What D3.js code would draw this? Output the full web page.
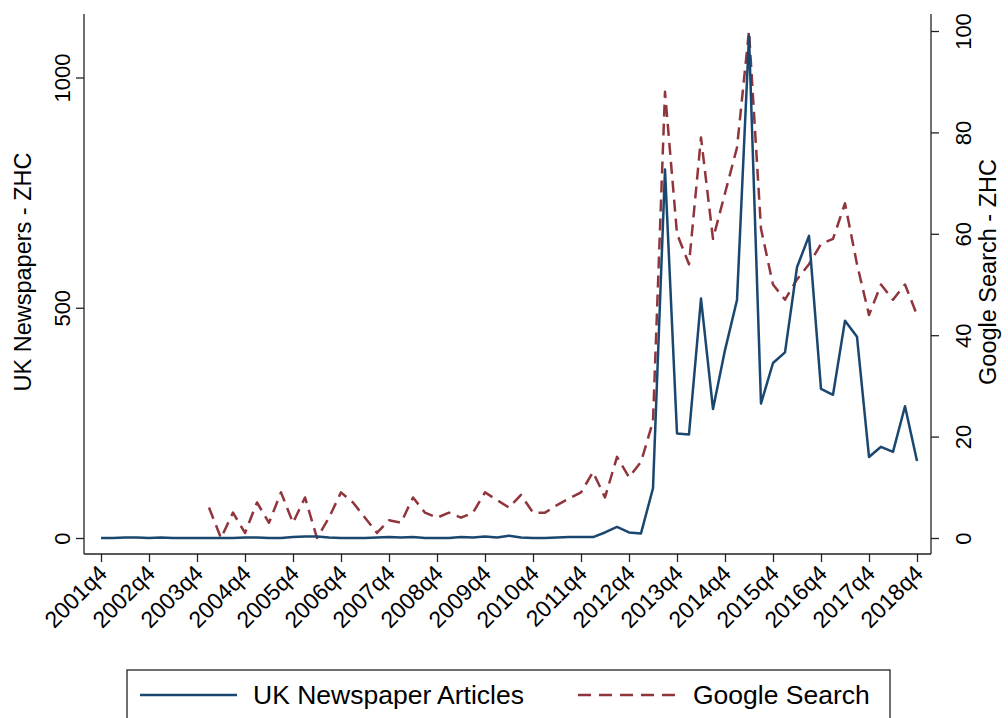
<!DOCTYPE html>
<html>
<head>
<meta charset="utf-8">
<script src="https://cdn.jsdelivr.net/npm/d3@7"></script>
<style>
  body { margin: 0; background: #fff; }
  svg { display: block; font-family: "Liberation Sans", Arial, Helvetica, sans-serif; }
</style>
</head>
<body>
<div id="grafica"></div>
<script>
// quarters 2001q4 .. 2018q4
var quarters = [];
for (var y = 2001; y <= 2018; y++) {
  for (var q = 1; q <= 4; q++) {
    if ((y === 2001 && q < 4) || (y === 2018 && q > 4)) continue;
    quarters.push(y + "q" + q);
  }
}
var tickLabels = ["2001q4","2002q4","2003q4","2004q4","2005q4","2006q4","2007q4","2008q4","2009q4",
  "2010q4","2011q4","2012q4","2013q4","2014q4","2015q4","2016q4","2017q4","2018q4"];

// UK newspaper articles (left axis)
var newspapers = [0,0,1,1,0,1,0,0,0,0,0,0,1,1,0,0,2,3,3,1,0,0,0,1,2,1,2,0,0,0,
  2,1,3,1,5,1,0,0,1,2,2,2,12,24,12,10,108,800,227,225,520,280,408,517,1090,
  292,380,403,588,656,324,311,472,437,176,198,187,286,167];

// Google search index (right axis), starts 2004q1
var google = [null,null,null,null,null,null,null,null,null,
  6,0,5,1,7,3,9,3,8,0,4,9,7,4,1,3.5,3,8,5,4,5,4,5,9,7.5,6,8.5,5,5,6.5,7.8,9,
  13,8,16,12,15,23,88,60,54,79,59,68,77,100,61,50,47,51,54,58,59,66,54,44,50,47,50,44];

var leftTicks = [0, 500, 1000];
var rightTicks = [0, 20, 40, 60, 80, 100];

var W = 1008, H = 718;
var frame = {left: 84, right: 931, top: 14, bottom: 554};

var svg = d3.select("#grafica").append("svg").attr("width", W).attr("height", H);

var x = d3.scalePoint().domain(quarters).range([101, 917]);
var yL = d3.scaleLinear().domain([0, 1000]).range([538, 77.5]);
var yR = d3.scaleLinear().domain([0, 100]).range([538, 31]);

var navy = "#1a476f", maroon = "#90353b";

// axes
var axL = svg.append("g").attr("transform", "translate(" + frame.left + ",0)")
  .call(d3.axisLeft(yL).tickValues(leftTicks).tickSize(8).tickFormat(d3.format("d")));
var axR = svg.append("g").attr("transform", "translate(" + frame.right + ",0)")
  .call(d3.axisRight(yR).tickValues(rightTicks).tickSize(8).tickFormat(d3.format("d")));
var axB = svg.append("g").attr("transform", "translate(0," + frame.bottom + ")")
  .call(d3.axisBottom(x).tickValues(tickLabels).tickSize(8));

[axL, axR, axB].forEach(function(g) {
  g.select(".domain").remove();
  g.selectAll(".tick line").attr("stroke", "#222").attr("stroke-width", 1.3);
  g.selectAll("text").attr("fill", "#000").style("font-size", "22px")
    .style("font-family", "'Liberation Sans', Arial, Helvetica, sans-serif");
});

axL.selectAll(".tick text").attr("x", null).attr("dy", null)
  .attr("text-anchor", "middle")
  .attr("transform", "translate(-14,0) rotate(-90)");
axR.selectAll(".tick text").attr("x", null).attr("dy", null)
  .attr("text-anchor", "middle")
  .attr("transform", "translate(40,0) rotate(-90)");
axB.selectAll(".tick text").attr("y", null).attr("dy", null)
  .style("font-size", "23px")
  .attr("text-anchor", "end")
  .attr("transform", "translate(7,21) rotate(-45)");

// frame lines (no top border)
var fr = svg.append("g").attr("stroke", "#222").attr("stroke-width", 1.3);
fr.append("line").attr("x1", frame.left).attr("x2", frame.left).attr("y1", frame.top).attr("y2", frame.bottom);
fr.append("line").attr("x1", frame.right).attr("x2", frame.right).attr("y1", frame.top).attr("y2", frame.bottom);
fr.append("line").attr("x1", frame.left).attr("x2", frame.right).attr("y1", frame.bottom).attr("y2", frame.bottom);

// axis titles
svg.append("text").attr("transform", "translate(31,272) rotate(-90)")
  .attr("text-anchor", "middle").style("font-size", "23.5px").text("UK Newspapers - ZHC");
svg.append("text").attr("transform", "translate(996,272) rotate(-90)")
  .attr("text-anchor", "middle").style("font-size", "23.5px").text("Google Search - ZHC");

// lines
var lineL = d3.line().x(function(d, i) { return x(quarters[i]); }).y(function(d) { return yL(d); });
var lineR = d3.line().defined(function(d) { return d !== null; })
  .x(function(d, i) { return x(quarters[i]); }).y(function(d) { return yR(d); });

svg.append("path").datum(google).attr("d", lineR)
  .attr("fill", "none").attr("stroke", maroon).attr("stroke-width", 2.5)
  .attr("stroke-dasharray", "12,7").attr("stroke-linejoin", "round");
svg.append("path").datum(newspapers).attr("d", lineL)
  .attr("fill", "none").attr("stroke", navy).attr("stroke-width", 2.5)
  .attr("stroke-linejoin", "round");

// legend
var lg = svg.append("g");
lg.append("rect").attr("x", 127).attr("y", 670).attr("width", 763).attr("height", 60)
  .attr("fill", "#fff").attr("stroke", "#222").attr("stroke-width", 1.3);
lg.append("line").attr("x1", 140).attr("x2", 237).attr("y1", 695).attr("y2", 695)
  .attr("stroke", navy).attr("stroke-width", 2.5);
lg.append("text").attr("x", 253).attr("y", 704).style("font-size", "26.5px").text("UK Newspaper Articles");
lg.append("line").attr("x1", 578).attr("x2", 680).attr("y1", 695).attr("y2", 695)
  .attr("stroke", maroon).attr("stroke-width", 2.5).attr("stroke-dasharray", "13,8");
lg.append("text").attr("x", 693).attr("y", 704).style("font-size", "26.5px").text("Google Search");
</script>
</body>
</html>
